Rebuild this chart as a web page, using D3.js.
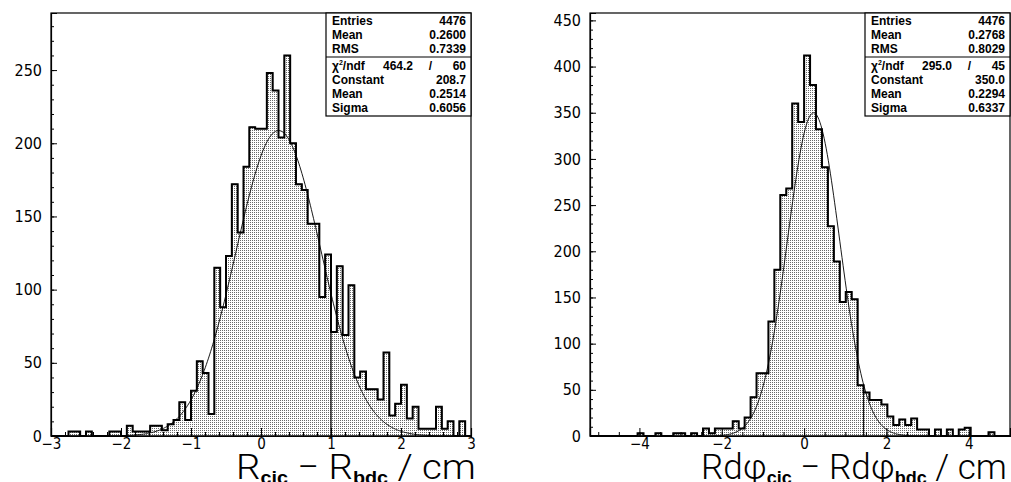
<!DOCTYPE html>
<html>
<head>
<meta charset="utf-8">
<script src="https://cdn.jsdelivr.net/npm/d3@7"></script>
<style>
  body { margin: 0; background: #fff; }
  svg { display: block; }
  .stat { font-family: "Liberation Sans", Arial, sans-serif; font-size: 12px; font-weight: bold; }
  .tick text { font-family: "Liberation Sans Narrow", "DejaVu Sans Condensed", "Liberation Sans", sans-serif; font-size: 16px; fill: #000; }
  .xax .tick text { font-size: 15px; }
  .title { font-family: Roboto, "Liberation Sans", sans-serif; font-weight: 300; }
</style>
</head>
<body>
<svg id="chart" width="1011" height="482"></svg>
<script>
// bin contents
const countsR = [0, 0, 0, 3, 3, 0, 3, 0, 0, 0, 3, 3, 0, 7, 3, 3, 3, 7, 7, 4, 8, 11, 23, 11,
  31, 51, 43, 15, 115, 88, 123, 172, 139, 184, 211, 210, 210, 248, 236, 204, 260, 200, 172, 168,
  145, 145, 95, 124, 71, 116, 69, 103, 40, 44, 32, 32, 25, 57, 14, 22, 35, 12, 20, 5,
  5, 5, 20, 5, 10, 0, 10, 0];
const countsPhi = [0, 0, 0, 0, 0, 0, 0, 0, 3, 0, 0, 3, 0, 0, 3, 3, 0, 3, 0, 8, 3, 8, 8, 8,
  16, 8, 20, 42, 68, 68, 124, 180, 261, 268, 360, 340, 412, 380, 332, 291, 227, 189, 145, 156,
  148, 55, 47, 39, 39, 34, 21, 12, 18, 12, 19, 7, 7, 0, 7, 0, 7, 0, 7, 9,
  0, 0, 0, 4, 0, 0, 0, 0];

const statsR = [["Entries", "4476"], ["Mean", "0.2600"], ["RMS", "0.7339"]];
const fitR = { chi2: "464.2", ndf: "60", constant: 208.7, mean: 0.2514, sigma: 0.6056 };
const statsPhi = [["Entries", "4476"], ["Mean", "0.2768"], ["RMS", "0.8029"]];
const fitPhi = { chi2: "295.0", ndf: "45", constant: 350.0, mean: 0.2294, sigma: 0.6337 };

const yTicksR = [0, 50, 100, 150, 200, 250];
const yTicksPhi = [0, 50, 100, 150, 200, 250, 300, 350, 400, 450];
const xTicksR = [-3, -2, -1, 0, 1, 2, 3];
const xTicksPhi = [-4, -2, 0, 2, 4];

const svg = d3.select("#chart");

const defs = svg.append("defs");
const pat = defs.append("pattern")
  .attr("id", "dots")
  .attr("width", 2).attr("height", 2)
  .attr("patternUnits", "userSpaceOnUse");
pat.append("rect").attr("width", 1).attr("height", 1).attr("fill", "#6a6a6a");

function panel(opt) {
  const g = svg.append("g");
  const x = d3.scaleLinear().domain(opt.xRange).range([opt.left, opt.right]);
  const y = d3.scaleLinear().domain([0, opt.yMax]).range([opt.bottom, opt.top]);
  const n = opt.counts.length;
  const w = (opt.hRange[1] - opt.hRange[0]) / n;
  const edge = i => opt.hRange[0] + i * w;

  defs.append("clipPath").attr("id", opt.id)
    .append("rect").attr("x", opt.left).attr("y", opt.top - 2)
    .attr("width", opt.right - opt.left).attr("height", opt.bottom - opt.top + 4);
  const plot = g.append("g").attr("clip-path", `url(#${opt.id})`);

  // fill, drawn in two pieces like the original plot
  function fillPts(a, b) {
    const pts = [[x(edge(a)), y(0)]];
    for (let i = a; i < b; i++) {
      pts.push([x(edge(i)), y(opt.counts[i])]);
      pts.push([x(edge(i + 1)), y(opt.counts[i])]);
    }
    pts.push([x(edge(b)), y(0)]);
    return pts;
  }
  [[0, opt.split], [opt.split, n]].forEach(([a, b]) => {
    plot.append("polygon")
      .attr("points", fillPts(a, b).join(" "))
      .attr("fill", "url(#dots)")
      .attr("stroke", "#000")
      .attr("stroke-width", 0.8);
  });

  // histogram outline
  plot.append("path")
    .attr("d", d3.line()(fillPts(0, n)))
    .attr("fill", "none")
    .attr("stroke", "#000")
    .attr("stroke-width", 2)
    .attr("stroke-linejoin", "miter");

  // gaussian fit
  const f = opt.fit;
  const xs = d3.range(0, 401).map(i => opt.xRange[0] + (opt.xRange[1] - opt.xRange[0]) * i / 400);
  plot.append("path")
    .attr("d", d3.line()
      .x(v => x(v))
      .y(v => y(f.constant * Math.exp(-0.5 * Math.pow((v - f.mean) / f.sigma, 2))))(xs))
    .attr("fill", "none")
    .attr("stroke", "#000")
    .attr("stroke-width", 0.9);

  // frame
  g.append("rect")
    .attr("x", opt.left).attr("y", opt.top)
    .attr("width", opt.right - opt.left).attr("height", opt.bottom - opt.top)
    .attr("fill", "none").attr("stroke", "#000").attr("stroke-width", 1.2);

  // y axis
  const yMinor = d3.range(0, opt.yMax, 10);
  g.append("g").attr("transform", `translate(${opt.left},0)`)
    .call(d3.axisLeft(y).tickValues(yMinor).tickSize(-3).tickFormat(""))
    .call(s => s.select(".domain").remove());
  g.append("g").attr("transform", `translate(${opt.left},0)`)
    .call(d3.axisLeft(y).tickValues(opt.yTicks).tickSize(-6).tickPadding(9).tickFormat(d3.format("d")))
    .call(s => s.select(".domain").attr("stroke-width", 1.2));

  // x axis
  const xMinor = d3.range(Math.ceil(opt.xRange[0] / opt.xMinor), Math.floor(opt.xRange[1] / opt.xMinor) + 1)
    .map(i => +(i * opt.xMinor).toFixed(3));
  g.append("g").attr("transform", `translate(0,${opt.bottom})`)
    .call(d3.axisBottom(x).tickValues(xMinor).tickSize(-4).tickFormat(""))
    .call(s => s.select(".domain").remove());
  g.append("g").attr("class", "xax").attr("transform", `translate(0,${opt.bottom})`)
    .call(d3.axisBottom(x).tickValues(opt.xTicks).tickSize(-8).tickPadding(2).tickFormat(d3.format("d")))
    .call(s => s.select(".domain").attr("stroke-width", 1.2));

  // stats box
  const bx = opt.boxLeft, bw = opt.right - opt.boxLeft;
  const rowH = 14;
  const box = g.append("g");
  box.append("rect").attr("x", bx).attr("y", opt.top).attr("width", bw).attr("height", rowH * 7 + 5)
    .attr("fill", "#fff").attr("stroke", "#000").attr("stroke-width", 1.2);
  box.append("line").attr("x1", bx).attr("x2", bx + bw)
    .attr("y1", opt.top + rowH * 3 + 2).attr("y2", opt.top + rowH * 3 + 2)
    .attr("stroke", "#000").attr("stroke-width", 1.2);
  const rows = opt.stats.concat([
    ["Constant", f.constant.toFixed(1)],
    ["Mean", f.mean.toFixed(4)],
    ["Sigma", f.sigma.toFixed(4)]
  ]);
  const rowY = i => opt.top + 12 + rowH * (i < 3 ? i : i + 1) + (i < 3 ? 0 : 3);
  rows.forEach((r, i) => {
    box.append("text").attr("class", "stat").attr("x", bx + 6).attr("y", rowY(i)).text(r[0]);
    box.append("text").attr("class", "stat").attr("x", bx + bw - 5).attr("y", rowY(i))
      .attr("text-anchor", "end").text(r[1]);
  });
  const cy = opt.top + 12 + rowH * 3 + 3;
  const chi = box.append("text").attr("class", "stat").attr("x", bx + 6).attr("y", cy);
  chi.append("tspan").text("χ");
  chi.append("tspan").attr("font-size", 7).attr("dy", -5).text("2");
  chi.append("tspan").attr("dy", 5).text("/ndf");
  box.append("text").attr("class", "stat").attr("x", bx + bw * 0.6).attr("y", cy)
    .attr("text-anchor", "end").text(f.chi2);
  box.append("text").attr("class", "stat").attr("x", bx + bw * 0.72).attr("y", cy)
    .attr("text-anchor", "middle").text("/");
  box.append("text").attr("class", "stat").attr("x", bx + bw - 5).attr("y", cy)
    .attr("text-anchor", "end").text(f.ndf);

  // axis title, stretched to the width it has in the original
  const tg = g.append("g");
  const t = tg.append("text").attr("class", "title")
    .attr("x", 0).attr("y", 0).attr("font-size", 35);
  opt.title.forEach(p => {
    if (p.sub) t.append("tspan").attr("font-size", 18).attr("font-weight", "bold")
      .attr("font-family", "Liberation Sans, Arial, sans-serif").attr("dy", 5).text(p.sub);
    else t.append("tspan").attr("dy", p.back ? -5 : 0).text(p.text);
  });
  const len = t.node().getComputedTextLength();
  const sx = (opt.titleEnd - opt.titleStart) / len;
  tg.attr("transform", `translate(${opt.titleStart},479) scale(${sx},1)`);
}

panel({
  id: "clipR",
  counts: countsR, hRange: [-3, 3], xRange: [-3, 3], yMax: 289,
  left: 51, right: 471, top: 13, bottom: 436, split: 48,
  yTicks: yTicksR, xTicks: xTicksR, xMinor: 0.2,
  stats: statsR, fit: fitR, boxLeft: 326,
  titleStart: 236, titleEnd: 476,
  title: [{ text: "R" }, { sub: "cic" }, { text: " − R", back: true }, { sub: "bdc" }, { text: " / cm", back: true }]
});

panel({
  id: "clipPhi",
  counts: countsPhi, hRange: [-5.2, 5.2], xRange: [-5.2, 5.0], yMax: 458,
  left: 590, right: 1010, top: 13, bottom: 436, split: 46,
  yTicks: yTicksPhi, xTicks: xTicksPhi, xMinor: 0.5,
  stats: statsPhi, fit: fitPhi, boxLeft: 865,
  titleStart: 701, titleEnd: 1007,
  title: [{ text: "Rdφ" }, { sub: "cic" }, { text: " − Rdφ", back: true }, { sub: "bdc" }, { text: " / cm", back: true }]
});
</script>
</body>
</html>
